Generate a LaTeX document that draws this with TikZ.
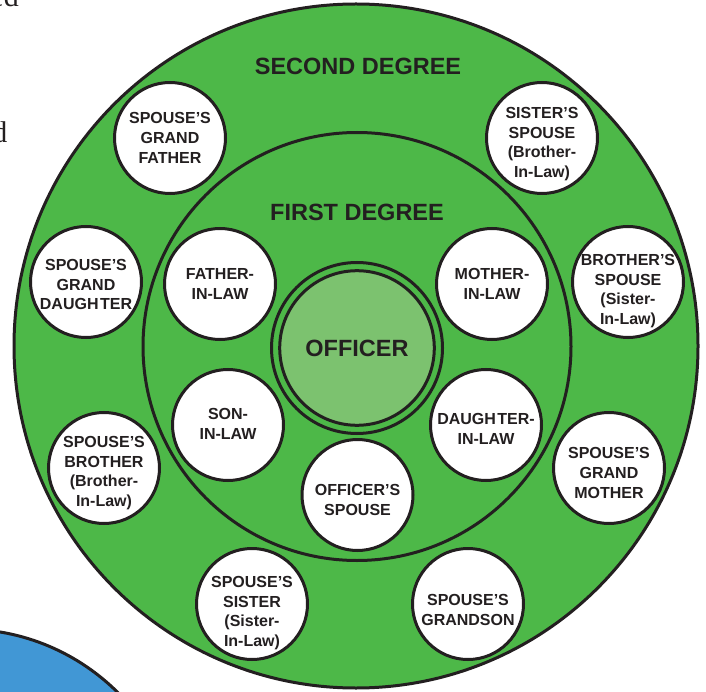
\documentclass[tikz,border=0pt]{standalone}
\usepackage{fontspec}
\setmainfont{Liberation Sans}
\newfontfamily\seriffont{Liberation Serif}
\definecolor{grn}{HTML}{4DB848}
\definecolor{lgrn}{HTML}{7CC26F}
\definecolor{blu}{HTML}{4197D5}
\definecolor{ink}{HTML}{231F20}
\begin{document}
\begin{tikzpicture}[x=1pt,y=-1pt,
  ring/.style={draw=ink, line width=3pt},
  person/.style={circle, draw=ink, fill=white, line width=3pt, minimum size=111pt, inner sep=0pt},
  ptext/.style={align=center, font=\fontsize{16}{19.7}\selectfont\bfseries, text=ink, inner sep=0pt},
  heading/.style={font=\fontsize{23.5}{28}\selectfont\bfseries, text=ink, inner sep=0pt},
  fragment/.style={font=\seriffont\fontsize{30}{30}\selectfont, text=ink, inner sep=0pt}]
\useasboundingbox (0,0) rectangle (706,692);
\clip (0,0) rectangle (706,692);
% background page fragments
\node[fragment, anchor=base east] (frag1) at (19,7) {ed};
\node[fragment, anchor=base east] (frag2) at (7.5,143) {d};
\filldraw[fill=blu, draw=ink, line width=3pt] (-36,847) circle (218);
% rings
\filldraw[fill=grn, ring] (356,346) circle (342);
\draw[ring] (357,346.5) circle (214);
\draw[ring] (357,348) circle (85.5);
\filldraw[fill=lgrn, ring] (357,348) circle (77.3);
% headings
\node[heading] (second) at (358,66) {SECOND DEGREE};
\node[heading] (first) at (357,212) {FIRST DEGREE};
\node[heading] (officer) at (357,348.5) {OFFICER};
% first degree
\node[person, label={[ptext]center:{FATHER-\\IN-LAW}}] (fil) at (220,284) {};
\node[person, label={[ptext]center:{MOTHER-\\IN-LAW}}] (mil) at (492,284) {};
\node[person, label={[ptext,yshift=1pt]center:{SON-\\IN-LAW}}] (sil) at (228,425) {};
\node[person, label={[ptext,yshift=-4pt]center:{DAUGH\kern1.5pt TER-\\IN-LAW}}] (dil) at (486,425) {};
\node[person, label={[ptext,yshift=-5pt]center:{OFFICER’S\\SPOUSE}}] (osp) at (357.5,495) {};
% second degree
\node[person, label={[ptext]center:{SPOUSE’S\\GRAND\\FATHER}}] (sgf) at (170,138) {};
\node[person, label={[ptext,yshift=-6pt]center:{SISTER’S\\SPOUSE\\(Brother-\\In-Law)}}] (ssp) at (542,138) {};
\node[person, label={[ptext,yshift=-2.5pt]center:{SPOUSE’S\\GRAND\\DAUGH\kern1.5pt TER}}] (sgd) at (86,282) {};
\node[person, label={[ptext,yshift=-9pt]center:{BROTHER’S\\SPOUSE\\(Sister-\\In-Law)}}] (bsp) at (628,282) {};
\node[person, label={[ptext,yshift=-5pt]center:{SPOUSE’S\\BROTHER\\(Brother-\\In-Law)}}] (sbr) at (104,468) {};
\node[person, label={[ptext,yshift=-5pt]center:{SPOUSE’S\\GRAND\\MOTHER}}] (sgm) at (609,468) {};
\node[person, label={[ptext,yshift=-9pt]center:{SPOUSE’S\\SISTER\\(Sister-\\In-Law)}}] (sss) at (252,604) {};
\node[person, label={[ptext,yshift=-6pt]center:{SPOUSE’S\\GRANDSON}}] (sgs) at (468,604) {};
\end{tikzpicture}
\end{document}
